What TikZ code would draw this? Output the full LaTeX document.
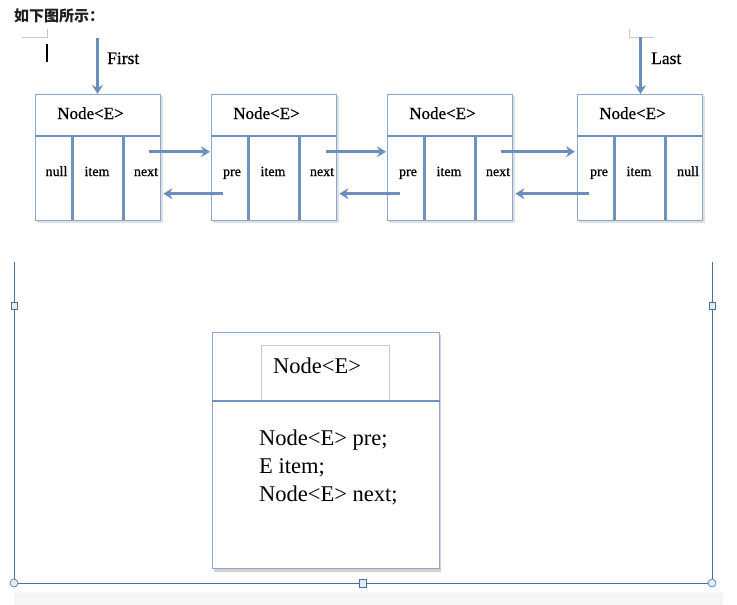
\documentclass[tikz,border=0pt]{standalone}
\usepackage{fontspec}
\setmainfont{Liberation Serif}
\newfontfamily\semib{Liberation Serif}[FakeBold=0.6]
\newfontfamily\cjk{Noto Sans CJK SC}
\usetikzlibrary{arrows.meta,calc}
\definecolor{boxline}{HTML}{8BA7C9}
\definecolor{divline}{HTML}{6F93BE}
\definecolor{arrcol}{HTML}{6A8FBD}
\definecolor{selline}{HTML}{4A6FA0}
\definecolor{handfill}{HTML}{DCEEFA}
\definecolor{innerline}{HTML}{B9CDE2}
\newcommand\llbox[6]{%
\begin{scope}[shift={(#2,0)}]
  \fill[black!12] (2,96) rectangle (127.5,222.5);
  \node[llbox,anchor=north west] (#1) at (0,94) {};
  \draw[divider] (0,136) -- (125,136);
  \draw[divider] (37.5,136) -- (37.5,220);
  \draw[divider] (88.5,136) -- (88.5,220);
  \node[hdr,anchor=base] (#1h) at (55.5,119) {Node<E>};
  \node[cell,anchor=base] (#1a) at (#6,176) {#3};
  \node[cell,anchor=base] (#1b) at (62,176) {#4};
  \node[cell,anchor=base] (#1c) at (111,176) {#5};
\end{scope}}
\begin{document}
\begin{tikzpicture}[x=1pt,y=-1pt,
  llbox/.style={draw=boxline,fill=white,line width=1.4pt,minimum width=125pt,minimum height=126pt,inner sep=0pt},
  divider/.style={draw=divline,line width=2.5pt},
  arr/.style={draw=arrcol,line width=2.8pt,-{Stealth[length=9pt,width=11pt,inset=3pt]}},
  hdr/.style={font=\semib\fontsize{17}{20}\selectfont,inner sep=0pt},
  cell/.style={font=\semib\fontsize{14}{16}\selectfont,inner sep=0pt},
  lbl/.style={font=\semib\fontsize{17.5}{20}\selectfont,inner sep=0pt},
  big/.style={font=\fontsize{22.5}{26}\selectfont,inner sep=0pt},
  handle/.style={draw=selline,fill=handfill,line width=0.6pt,inner sep=0pt},
  cornermark/.style={draw=black!22,line width=1pt}
]
\useasboundingbox (0,0) rectangle (737,605);
% heading
\node[anchor=base west,inner sep=0pt,font=\cjk\bfseries\fontsize{15}{17}\selectfont,text=black!88] (title) at (14,21.5) {如下图所示：};
% little corner marks and cursor
\draw[cornermark] (22,37) -- (47,37) -- (47,29);
\draw[black,line width=1.2pt] (47,44) -- (47,62);
\draw[cornermark] (629,29) -- (629,37) -- (654,37);
% the four list nodes
\llbox{b1}{35}{null}{item}{next}{21.5}
\llbox{b2}{211}{pre}{item}{next}{21}
\llbox{b3}{387}{pre}{item}{next}{21}
\llbox{b4}{577}{pre}{item}{null}{22}
% First / Last pointers
\coordinate (ft) at (97.5,38);
\coordinate (lt) at (640.5,37);
\draw[arr] (ft) -- (ft |- b1.north);
\draw[arr] (lt) -- (lt |- b4.north);
\node[lbl,anchor=base west] (first) at (107,64) {First};
\node[lbl,anchor=base west] (last) at (651,64) {Last};
% links
\draw[arr] ($(b1.east)+(-12,-6)$) -- ($(b2.west)+(-1,-6)$);
\draw[arr] ($(b2.west)+(12,36)$) -- ($(b1.east)+(2,36)$);
\draw[arr] ($(b2.east)+(-11,-6)$) -- ($(b3.west)+(-1,-6)$);
\draw[arr] ($(b3.west)+(13,36)$) -- ($(b2.east)+(2,36)$);
\draw[arr] ($(b3.east)+(-12,-6)$) -- ($(b4.west)+(-2,-6)$);
\draw[arr] ($(b4.west)+(12,36)$) -- ($(b3.east)+(2,36)$);
% selection frame
\draw[selline,line width=0.8pt] (14,262) -- (14,583) -- (712,583) -- (712,262);
\node[handle,minimum width=6pt,minimum height=7pt] (h1) at (14,306) {};
\node[handle,minimum width=6pt,minimum height=7pt] (h2) at (712,306) {};
\node[handle,minimum width=7pt,minimum height=8pt] (h3) at (363,583) {};
\node[handle,circle,minimum size=8pt] (h4) at (14,583) {};
\node[handle,circle,minimum size=8pt] (h5) at (712,583) {};
% bottom grey bar
\draw[draw=black!12,fill=black!4,rounded corners=2pt] (15,593) rectangle (722,612);
% class box
\fill[black!18] (213.5,335) rectangle (440.5,571.5);
\node[draw=boxline,fill=white,line width=1.4pt,minimum width=227pt,minimum height=236pt,inner sep=0pt,anchor=north west] (cls) at (211.5,332) {};
\draw[draw=innerline,line width=1pt] (261.5,401) -- (261.5,345) -- (389,345) -- (389,401);
\draw[divider] (cls.west |- 0,401) -- (cls.east |- 0,401);
\node[big,anchor=base west] (ch) at (273,373) {Node<E>};
\node[big,anchor=base west] (f1) at (259,445) {Node<E> pre;};
\node[big,anchor=base west] (f2) at (259,473) {E item;};
\node[big,anchor=base west] (f3) at (259,501) {Node<E> next;};
\end{tikzpicture}
\end{document}
